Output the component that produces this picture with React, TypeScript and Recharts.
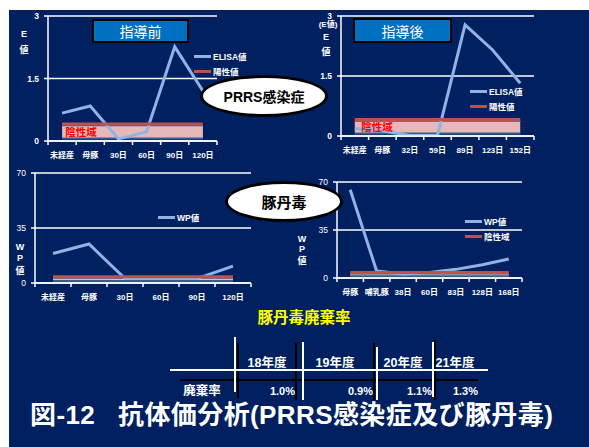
import { ComposedChart, Line, Area, XAxis, YAxis, CartesianGrid, Legend } from "recharts";

const NAVY = "#002060";
const BLUE_LINE = "#8EB4E3";
const RED_LINE = "#C0504D";
const FONT = '"Liberation Sans", "Noto Sans CJK JP", sans-serif';

// PRRS感染症 (ELISA値)
const prrsBeforeCats = ["未経産", "母豚", "30日", "60日", "90日", "120日"];
const prrsBeforeElisa = [0.67, 0.84, 0.05, 0.22, 2.26, 1.2];
const prrsAfterCats = ["未経産", "母豚", "32日", "59日", "89日", "123日", "152日"];
const prrsAfterElisa = [0.19, 0.13, 0.01, 0.01, 2.78, 2.15, 1.32];
const prrsPositive = 0.41;
const prrsNegative = [0.06, 0.38];
const prrsTicks = [0, 1.5, 3];

// 豚丹毒 (WP値)
const erysBeforeCats = ["未経産", "母豚", "30日", "60日", "90日", "120日"];
const erysBeforeWp = [18.8, 24.8, 2.8, 2.8, 2.8, 10.7];
const erysAfterCats = ["母豚", "哺乳豚", "38日", "60日", "83日", "128日", "168日"];
const erysAfterWp = [64.4, 5.1, 3, 4, 6.3, 9.7, 13.9];
const erysPositive = 4;
const erysNegative = [1.3, 3.3];
const erysTicks = [0, 35, 70];

// 豚丹毒廃棄率
const rateYears = ["18年度", "19年度", "20年度", "21年度"];
const rateValues = [1.0, 0.9, 1.1, 1.3];

type Item = { label: string; color: string };

const LegendBox = ({ items }: { items: Item[] }) => (
  <div style={{ fontFamily: FONT }}>
    {items.map((it) => (
      <div key={it.label} style={{ display: "flex", alignItems: "center", height: 15 }}>
        <span style={{ display: "inline-block", width: 17, height: 3, background: it.color, marginRight: 2 }} />
        <span style={{ color: "#fff", fontSize: 8.5, fontWeight: 700, whiteSpace: "nowrap" }}>{it.label}</span>
      </div>
    ))}
  </div>
);

type PanelProps = {
  cats: string[];
  values: number[];
  pos: number;
  neg: number[];
  ticks: number[];
  plot: number[];
  legendAt: number[];
  legend: Item[];
  boldY: boolean;
};

function Panel({ cats, values, pos, neg, ticks, plot, legendAt, legend, boldY }: PanelProps) {
  const [x0, x1, y0, y1] = plot;
  const left = x0 - 40;
  const top = y0 - 10;
  const width = x1 - left + 12;
  const height = y1 - top + 24;
  const half = (x1 - x0) / cats.length / 2;
  const data = cats.map((c, i) => ({ cat: c, value: values[i], pos, neg }));

  const renderTick = (p: any) => {
    const last = p.index === cats.length - 1;
    return (
      <g>
        <line x1={p.x - half} x2={p.x - half} y1={p.y} y2={p.y + 4} stroke="#fff" strokeWidth={1.5} />
        {last && <line x1={p.x + half} x2={p.x + half} y1={p.y} y2={p.y + 4} stroke="#fff" strokeWidth={1.5} />}
        <text x={p.x} y={p.y + 17} textAnchor="middle" fill="#fff" fontSize={8} fontWeight={700}>
          {p.payload.value}
        </text>
      </g>
    );
  };

  return (
    <div style={{ position: "absolute", left, top }}>
      <ComposedChart width={width} height={height} data={data} margin={{ top: 10, right: 12, left: 0, bottom: 4 }}>
        <CartesianGrid vertical={false} stroke="#fff" strokeWidth={1.5} />
        <XAxis
          dataKey="cat"
          scale="band"
          interval={0}
          height={20}
          tickLine={false}
          tickSize={0}
          tickMargin={0}
          axisLine={{ stroke: "#fff", strokeWidth: 1.5 }}
          tick={renderTick}
        />
        <YAxis
          domain={[0, ticks[ticks.length - 1]]}
          ticks={ticks}
          interval={0}
          width={40}
          tickSize={4}
          tickMargin={5}
          allowDataOverflow
          tickLine={{ stroke: "#fff", strokeWidth: 1.5 }}
          axisLine={{ stroke: "#fff", strokeWidth: 1.5 }}
          tick={{ fill: "#fff", fontSize: 8.5, fontWeight: boldY ? 700 : 400 }}
        />
        <Area
          dataKey="neg"
          fill="#E6B9B8"
          fillOpacity={1}
          stroke="#385D8A"
          strokeWidth={2}
          legendType="none"
          isAnimationActive={false}
        />
        <Line dataKey="value" stroke={BLUE_LINE} strokeWidth={3} dot={false} isAnimationActive={false} />
        <Line dataKey="pos" stroke={RED_LINE} strokeWidth={3} dot={false} isAnimationActive={false} />
        <Legend
          layout="vertical"
          align="center"
          verticalAlign="middle"
          wrapperStyle={{ left: legendAt[0] - left, top: legendAt[1] - top - 7.5, width: "auto" }}
          content={() => <LegendBox items={legend} />}
        />
      </ComposedChart>
    </div>
  );
}

const Txt = ({ x, y, size, color = "#fff", weight = 700, children }: any) => (
  <div
    style={{
      position: "absolute",
      left: x,
      top: y,
      transform: "translate(-50%, -50%)",
      fontSize: size,
      fontWeight: weight,
      color,
      whiteSpace: "pre",
      lineHeight: 1,
    }}
  >
    {children}
  </div>
);

const Ellipse = ({ x, y, w, h, size, children }: any) => (
  <div
    style={{
      position: "absolute",
      left: x,
      top: y,
      width: w,
      height: h,
      borderRadius: "50%",
      border: "3px solid #000",
      background: "#fff",
      boxSizing: "border-box",
      display: "flex",
      alignItems: "center",
      justifyContent: "center",
      fontSize: size,
      fontWeight: 700,
      color: "#000",
    }}
  >
    {children}
  </div>
);

const TitleBox = ({ x, y, w, h, children }: any) => (
  <div
    style={{
      position: "absolute",
      left: x,
      top: y,
      width: w,
      height: h,
      background: "#0070C0",
      border: "2px solid #000",
      boxSizing: "border-box",
      display: "flex",
      alignItems: "center",
      justifyContent: "center",
      color: "#fff",
      fontSize: 14,
    }}
  >
    {children}
  </div>
);

// table layout
const headCx = [267, 335, 403, 455];
const valRight = [295, 373, 432, 478];
const whiteCols = [[235, 337, 392], [303, 342, 400], [377, 347, 400], [433, 342, 397]];
const blackCols = [[238, 343, 398], [296, 343, 400], [374, 343, 400], [435, 340, 400]];

export default function App() {
  return (
    <div
      style={{
        position: "absolute",
        left: 0,
        top: 0,
        width: 589,
        height: 447,
        overflow: "hidden",
        background: "#fff",
        fontFamily: FONT,
      }}
    >
      <div style={{ position: "absolute", left: 9, top: 10, width: 580, height: 437, background: NAVY }} />

      <Panel
        cats={prrsBeforeCats}
        values={prrsBeforeElisa}
        pos={prrsPositive}
        neg={prrsNegative}
        ticks={prrsTicks}
        plot={[48, 217, 16, 141]}
        legendAt={[194, 56]}
        legend={[
          { label: "ELISA値", color: BLUE_LINE },
          { label: "陽性値", color: RED_LINE },
        ]}
        boldY
      />
      <Panel
        cats={prrsAfterCats}
        values={prrsAfterElisa}
        pos={prrsPositive}
        neg={prrsNegative}
        ticks={prrsTicks}
        plot={[341, 534, 16, 136]}
        legendAt={[470, 91]}
        legend={[
          { label: "ELISA値", color: BLUE_LINE },
          { label: "陽性値", color: RED_LINE },
        ]}
        boldY
      />
      <Panel
        cats={erysBeforeCats}
        values={erysBeforeWp}
        pos={erysPositive}
        neg={erysNegative}
        ticks={erysTicks}
        plot={[35, 251, 173, 283]}
        legendAt={[158, 217]}
        legend={[{ label: "WP値", color: BLUE_LINE }]}
        boldY={false}
      />
      <Panel
        cats={erysAfterCats}
        values={erysAfterWp}
        pos={erysPositive}
        neg={erysNegative}
        ticks={erysTicks}
        plot={[337, 522, 182, 278]}
        legendAt={[465, 221]}
        legend={[
          { label: "WP値", color: BLUE_LINE },
          { label: "陰性域", color: RED_LINE },
        ]}
        boldY={false}
      />

      {/* axis titles */}
      <Txt x={24} y={34} size={9}>E</Txt>
      <Txt x={24} y={50} size={9}>値</Txt>
      <Txt x={326} y={37} size={9}>E</Txt>
      <Txt x={326} y={52} size={9}>値</Txt>
      <Txt x={328} y={25} size={8}>(E値)</Txt>
      <Txt x={20} y={247} size={9}>W</Txt>
      <Txt x={20} y={258} size={9}>P</Txt>
      <Txt x={20} y={271} size={9}>値</Txt>
      <Txt x={302} y={239} size={9}>W</Txt>
      <Txt x={302} y={249} size={9}>P</Txt>
      <Txt x={302} y={261} size={9}>値</Txt>

      {/* negative zone labels */}
      <Txt x={81} y={132} size={10.5} color="#FF0000">陰性域</Txt>
      <Txt x={377} y={127} size={10.5} color="#FF0000">陰性域</Txt>

      <TitleBox x={92} y={19} w={97} h={24}>指導前</TitleBox>
      <TitleBox x={353} y={18} w={99} h={25}>指導後</TitleBox>

      <Ellipse x={200} y={75} w={128} h={42} size={14}>PRRS感染症</Ellipse>
      <Ellipse x={225} y={181} w={118} h={41} size={15}>豚丹毒</Ellipse>

      {/* 豚丹毒廃棄率 table */}
      <Txt x={304} y={318} size={15.5} color="#FFFF00">豚丹毒廃棄率</Txt>
      <svg width={589} height={447} style={{ position: "absolute", left: 0, top: 0 }}>
        <line x1={180} x2={478} y1={380} y2={380} stroke="#000" strokeWidth={2} />
        {blackCols.map(([x, a, b], i) => (
          <line key={"b" + i} x1={x} x2={x} y1={a} y2={b} stroke="#000" strokeWidth={2} />
        ))}
        <line x1={170} x2={488} y1={370} y2={370} stroke="#fff" strokeWidth={2} />
        {whiteCols.map(([x, a, b], i) => (
          <line key={"w" + i} x1={x} x2={x} y1={a} y2={b} stroke="#fff" strokeWidth={2} />
        ))}
        {rateYears.map((yr, i) => (
          <text key={yr} x={headCx[i]} y={367} textAnchor="middle" fill="#fff" fontSize={12.5} fontWeight={700}>
            {yr}
          </text>
        ))}
        <text x={202} y={395} textAnchor="middle" fill="#fff" fontSize={12.5} fontWeight={700}>
          廃棄率
        </text>
        {rateValues.map((v, i) => (
          <text key={i} x={valRight[i]} y={395} textAnchor="end" fill="#fff" fontSize={11} fontWeight={700}>
            {v.toFixed(1) + "%"}
          </text>
        ))}
      </svg>

      <div
        style={{
          position: "absolute",
          left: 30,
          top: 402,
          fontSize: 26,
          fontWeight: 700,
          letterSpacing: 0.4,
          color: "#fff",
          whiteSpace: "pre",
          lineHeight: 1,
        }}
      >
        図-12   抗体価分析(PRRS感染症及び豚丹毒)
      </div>
    </div>
  );
}
